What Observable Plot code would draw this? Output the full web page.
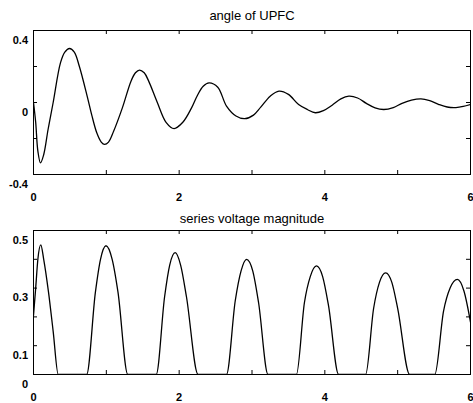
<!DOCTYPE html>
<html>
<head>
<meta charset="utf-8">
<script src="https://cdn.jsdelivr.net/npm/d3@7"></script>
<script src="https://cdn.jsdelivr.net/npm/@observablehq/plot@0.6"></script>
<style>
  html, body { margin: 0; padding: 0; background: #fff; }
  svg { display: block; }
</style>
</head>
<body>
<div id="chart"></div>
<script>
// ---- Data ----
const angleTitle = "angle of UPFC";
const magTitle = "series voltage magnitude";

const angleT = [0, 0.03, 0.06, 0.096, 0.14, 0.2, 0.27, 0.37, 0.43, 0.495, 0.56, 0.63, 0.74, 0.8, 0.87, 0.93, 0.975,
  1.03, 1.1, 1.22, 1.34, 1.4, 1.455, 1.52, 1.58, 1.7, 1.82, 1.93, 2.05, 2.17, 2.25, 2.33, 2.41, 2.53, 2.65, 2.78, 2.9,
  3.02, 3.12, 3.25, 3.37, 3.5, 3.64, 3.76, 3.87, 3.98, 4.1, 4.22, 4.33, 4.45, 4.57, 4.69, 4.81, 4.94, 5.06, 5.19,
  5.32, 5.44, 5.56, 5.68, 5.8, 5.9, 6.0];
const angleV = [0, -0.11, -0.27, -0.335, -0.29, -0.15, 0.0, 0.22, 0.28, 0.30, 0.28, 0.2, 0.03, -0.07, -0.17, -0.22, -0.233,
  -0.22, -0.16, -0.03, 0.12, 0.165, 0.18, 0.165, 0.12, 0.0, -0.11, -0.145, -0.11, -0.03, 0.039, 0.09, 0.109, 0.085, -0.02, -0.075, -0.09,
  -0.07, -0.026, 0.035, 0.063, 0.045, -0.011, -0.039, -0.057, -0.045, -0.015, 0.02, 0.035, 0.025, -0.005, -0.03, -0.039, -0.028, -0.005, 0.013,
  0.02, 0.01, -0.01, -0.025, -0.028, -0.022, -0.011];

const magT = [0, 0.03, 0.06, 0.1, 0.14, 0.206, 0.27, 0.34, 0.73, 0.85, 0.92, 0.995, 1.08, 1.16, 1.295,
  1.685, 1.8, 1.87, 1.945, 2.02, 2.1, 2.26, 2.65, 2.77, 2.85, 2.925, 3.01, 3.09, 3.22,
  3.61, 3.72, 3.8, 3.885, 3.97, 4.05, 4.19, 4.56, 4.67, 4.75, 4.835, 4.92, 5.0, 5.165,
  5.51, 5.63, 5.72, 5.82, 5.91, 6.0];
const magV = [0.205, 0.30, 0.40, 0.45, 0.40, 0.286, 0.15, 0, 0, 0.286, 0.40, 0.447, 0.40, 0.286, 0,
  0, 0.27, 0.38, 0.423, 0.38, 0.27, 0, 0, 0.256, 0.36, 0.40, 0.36, 0.25, 0,
  0, 0.25, 0.34, 0.377, 0.34, 0.24, 0, 0, 0.23, 0.32, 0.353, 0.32, 0.23, 0,
  0, 0.22, 0.30, 0.33, 0.29, 0.182];

const xTicks = [0, 1, 2, 3, 4, 5, 6];
const xLabels = ["0", "2", "4", "6"];
const angleYTicks = [-0.4, -0.2, 0, 0.2, 0.4];
const angleYLabels = ["-0.4", "0", "0.4"];
const magYTicks = [0, 0.1, 0.2, 0.3, 0.4, 0.5];
const magYLabels = ["0", "0.1", "0.3", "0.5"];

const angleData = angleT.map((t, i) => ({t, v: angleV[i]}));
const magData = magT.map((t, i) => ({t, v: magV[i]}));

const W = 473, ML = 33, MR = 3, FH = 144, FW = W - ML - MR, TICK = 4;
const FONT = "'Liberation Sans', Arial, sans-serif";
const labelFont = {fontSize: 11, fontWeight: "bold", fill: "black"};

function panel({title, data, yDomain, yTicks, yLabels, height, marginTop, titleDy, xLabelDy, curve}) {
  const marginBottom = height - marginTop - FH;
  return Plot.plot({
    width: W, height, marginLeft: ML, marginRight: MR, marginTop, marginBottom,
    x: {domain: [0, 6], axis: null},
    y: {domain: yDomain, axis: null},
    style: {fontFamily: FONT, fontSize: "11px", background: "white", color: "black", overflow: "visible"},
    marks: [
      Plot.frame({stroke: "black", strokeWidth: 1}),
      Plot.tickX(xTicks, {x: d => d, insetBottom: FH - TICK, stroke: "black"}),
      Plot.tickX(xTicks, {x: d => d, insetTop: FH - TICK, stroke: "black"}),
      Plot.tickY(yTicks, {y: d => d, insetRight: FW - TICK, stroke: "black"}),
      Plot.tickY(yTicks, {y: d => d, insetLeft: FW - TICK, stroke: "black"}),
      Plot.line(data, {x: "t", y: "v", curve, stroke: "black", strokeWidth: 1.3, clip: true}),
      Plot.text(xLabels, {x: d => +d, text: d => d, frameAnchor: "bottom", lineAnchor: "middle", dy: xLabelDy, ...labelFont}),
      Plot.text(yLabels, {y: d => +d, text: d => d, frameAnchor: "left", textAnchor: "end", lineAnchor: "middle", dx: -5.5, dy: 9.5, ...labelFont}),
      Plot.text([title], {frameAnchor: "top", lineAnchor: "middle", dy: titleDy, fontSize: 13, fill: "black", text: d => d})
    ]
  });
}

// The lower panel is drawn on a full-height SVG; the upper panel is nested inside it at the top.
const lower = panel({title: magTitle, data: magData, yDomain: [0, 0.5], yTicks: magYTicks, yLabels: magYLabels,
  height: 403, marginTop: 230, titleDy: -12, xLabelDy: 22.5, curve: "monotone-x"});
const upper = panel({title: angleTitle, data: angleData, yDomain: [-0.4, 0.4], yTicks: angleYTicks, yLabels: angleYLabels,
  height: 204, marginTop: 30, titleDy: -15, xLabelDy: 23, curve: "catmull-rom"});
upper.removeAttribute("class");
upper.setAttribute("style", `font-family:${FONT};font-size:11px;overflow:visible`);
upper.setAttribute("x", 0);
upper.setAttribute("y", 0);
upper.setAttribute("width", W);
upper.setAttribute("height", 204);
upper.setAttribute("preserveAspectRatio", "xMinYMin meet");
lower.appendChild(upper);
document.getElementById("chart").append(lower);
</script>
</body>
</html>
